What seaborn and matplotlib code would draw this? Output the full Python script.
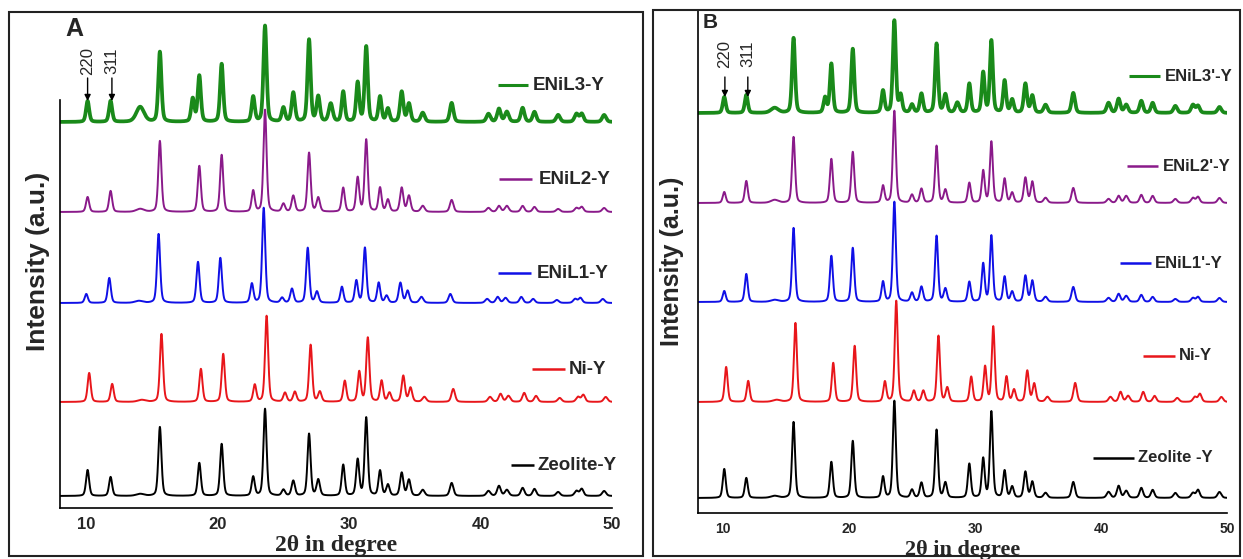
import numpy as np
import pandas as pd
import matplotlib
matplotlib.use("Agg")
import matplotlib.pyplot as plt
from matplotlib.patches import Rectangle
import seaborn as sns

# ---------------- data ----------------
# common reflection positions (2theta, deg) of the faujasite (zeolite Y) pattern
peak_pos = [10.1, 11.85, 14.1, 15.6, 18.1, 18.6, 20.3, 22.7, 23.6, 24.1, 25.0, 25.75,
            26.95, 27.65, 28.6, 29.55, 30.65, 31.3, 32.35, 32.95, 34.0, 34.55, 35.6,
            37.8, 40.6, 41.4, 42.0, 43.2, 44.1, 45.9, 47.3, 47.7, 49.4]
peak_fwhm = [0.28, 0.28, 0.7, 0.28, 0.28, 0.28, 0.28, 0.28, 0.28, 0.28, 0.3, 0.3,
             0.28, 0.3, 0.35, 0.28, 0.28, 0.28, 0.28, 0.3, 0.3, 0.3, 0.35,
             0.32, 0.35, 0.32, 0.35, 0.32, 0.32, 0.35, 0.35, 0.32, 0.35]

# Panel A peak heights (a.u.)
A_zeolite = [26, 19, 2, 69, 0, 33, 52, 19, 87, 0, 6, 15, 62, 16, 0, 31, 36, 78, 25, 11, 23, 16, 6,
             13, 5, 10, 6, 8, 7, 4, 5, 7, 5]
A_niy = [29, 18, 2, 68, 0, 33, 48, 17, 86, 0, 9, 10, 57, 10, 0, 21, 30, 64, 21, 9, 26, 14, 5,
         13, 5, 8, 6, 9, 6, 4, 5, 7, 5]
A_enil1 = [9, 25, 2, 69, 0, 41, 45, 19, 95, 0, 5, 14, 55, 11, 0, 16, 22, 55, 20, 7, 20, 12, 6,
           9, 4, 6, 5, 6, 4, 3, 4, 5, 4]
A_enil2 = [15, 21, 3, 71, 0, 46, 57, 21, 102, 0, 8, 16, 59, 14, 0, 24, 34, 72, 24, 12, 24, 16, 6,
           12, 4, 6, 6, 6, 5, 3, 4, 5, 4]
A_enil3 = [21, 21, 15, 70, 23, 46, 58, 25, 96, 0, 14, 29, 82, 25, 18, 30, 39, 75, 25, 13, 30, 18, 9,
           19, 8, 13, 10, 14, 10, 7, 8, 8, 7]

# Panel B peak heights (a.u.)
B_zeolite = [29, 20, 2, 76, 0, 36, 57, 21, 97, 0, 8, 15, 68, 15, 0, 34, 39, 86, 27, 11, 26, 16, 5,
             16, 6, 12, 7, 10, 8, 5, 5, 8, 6]
B_niy = [35, 21, 2, 79, 0, 39, 56, 20, 101, 0, 11, 11, 66, 14, 0, 25, 35, 75, 25, 12, 31, 18, 5,
         19, 5, 10, 6, 10, 6, 4, 5, 8, 5]
B_enil1 = [11, 28, 2, 74, 0, 46, 54, 20, 100, 0, 9, 15, 66, 13, 0, 20, 38, 66, 25, 10, 26, 21, 5,
           15, 4, 8, 6, 7, 5, 3, 4, 5, 4]
B_enil2 = [11, 22, 3, 66, 0, 44, 51, 17, 92, 0, 8, 14, 57, 13, 0, 20, 32, 61, 24, 10, 25, 21, 5,
           15, 4, 7, 7, 8, 7, 4, 5, 6, 5]
B_enil3 = [16, 18, 5, 75, 15, 49, 64, 22, 92, 17, 8, 19, 69, 18, 10, 29, 40, 72, 32, 13, 29, 17, 8,
           20, 10, 14, 8, 12, 10, 7, 8, 7, 6]

# peak shift of each sample (deg) and vertical stacking offset (a.u.)
A_labels = ["Zeolite-Y", "Ni-Y", "ENiL1-Y", "ENiL2-Y", "ENiL3-Y"]
A_shift = [0.0, 0.12, -0.1, 0.0, 0.0]
A_offset = [12, 106, 205, 296, 386]
B_labels = ["Zeolite -Y", "Ni-Y", "ENiL1'-Y", "ENiL2'-Y", "ENiL3'-Y"]
B_shift = [0.0, 0.15, 0.0, 0.0, 0.0]
B_offset = [15, 111, 211, 310, 400]

x_ticks = [10, 20, 30, 40, 50]
colors = ["#000000", "#e8161b", "#1010e6", "#8a1a8a", "#1a8a1a"]
widths = [1.4, 1.4, 1.4, 1.4, 2.7]

two_theta = np.linspace(8, 50, 4201)


def pattern(heights, shift):
    y = np.zeros_like(two_theta)
    for p, w, h in zip(peak_pos, peak_fwhm, heights):
        d = (two_theta - p - shift) / w
        y += h * (0.65 * np.exp(-4 * np.log(2) * d ** 2) + 0.35 / (1 + 4 * d ** 2))
    return y


# ---------------- figure ----------------
sns.set_style("white")
plt.rcParams["font.family"] = ["Liberation Sans", "DejaVu Sans"]

W, H = 1243, 559
fig = plt.figure(figsize=(W / 100, H / 100), dpi=100)


def fx(px):
    return px / W


def fy(py):
    return 1 - py / H


# outer frames of the two panels
for (x0, y0, x1, y1) in [(9, 12, 643, 556), (653, 10, 1240, 556)]:
    fig.patches.append(Rectangle((fx(x0), fy(y1)), fx(x1) - fx(x0), fy(y0) - fy(y1),
                                 transform=fig.transFigure, fill=False,
                                 edgecolor="#222222", linewidth=1.5))

# legend key placement per sample (line start, line end, text start in deg; y in a.u.),
# ordered like the samples: Zeolite, Ni, ENiL1, ENiL2, ENiL3
panels = [
    dict(rect=(60, 15, 612, 508), heights=[A_zeolite, A_niy, A_enil1, A_enil2, A_enil3],
         labels=A_labels, shift=A_shift, offset=A_offset, letter="A", tick_fs=12,
         xl_fs=17, yl_fs=19, leg_fs=13.5, spine_top=408, letter_fs=18,
         legend=[(42.3, 44.1, 44.3, 43), (43.9, 46.4, 46.7, 139), (41.3, 43.8, 44.3, 235),
                 (41.4, 43.9, 44.4, 329), (41.3, 43.6, 44.0, 423)],
         arrows=[(10.1, 447, 430, 407), (11.95, 447, 430, 407)], ylab_x=-0.04),
    dict(rect=(697.8, 10, 1227, 513), heights=[B_zeolite, B_niy, B_enil1, B_enil2, B_enil3],
         labels=B_labels, shift=B_shift, offset=B_offset, letter="B", tick_fs=10,
         xl_fs=16, yl_fs=18, leg_fs=12, spine_top=None, letter_fs=15,
         legend=[(39.4, 42.6, 42.9, 55), (43.3, 45.9, 46.2, 157), (41.5, 44.0, 44.3, 250),
                 (42.1, 44.5, 44.9, 347), (42.2, 44.7, 45.1, 437)],
         arrows=[(10.15, 459, 436, 416), (11.97, 459, 436, 416)], ylab_x=-0.049),
]

for P in panels:
    l, t, r, b = P["rect"]
    ax = fig.add_axes([fx(l), fy(b), fx(r) - fx(l), fy(t) - fy(b)])
    ax.set_xlim(8, 50)
    ax.set_ylim(0, b - t)

    for i in range(5):
        df = pd.DataFrame({"two_theta": two_theta,
                           "intensity": pattern(P["heights"][i], P["shift"][i]) + P["offset"][i]})
        sns.lineplot(data=df, x="two_theta", y="intensity", ax=ax, color=colors[i],
                     linewidth=widths[i], estimator=None, sort=False, legend=False)
        x0, x1, xt, yl = P["legend"][i]
        ax.plot([x0, x1], [yl, yl], color=colors[i], lw=1.8 if i < 4 else 2.2,
                solid_capstyle="butt")
        ax.text(xt, yl, P["labels"][i], fontsize=P["leg_fs"], fontweight="bold",
                ha="left", va="center")

    for (xa, ytxt, y0, y1), lab in zip(P["arrows"], ["220", "311"]):
        ax.annotate("", xy=(xa, y1), xytext=(xa, y0),
                    arrowprops=dict(arrowstyle="-|>", color="black", lw=1.0,
                                    mutation_scale=9, shrinkA=0, shrinkB=0))
        ax.text(xa, ytxt, lab, rotation=90, ha="center", va="center", fontsize=12)

    ax.text(0.009, 0.995, P["letter"], transform=ax.transAxes, fontsize=P["letter_fs"],
            fontweight="bold", ha="left", va="top")

    for s in ["top", "right"]:
        ax.spines[s].set_visible(False)
    for s in ["left", "bottom"]:
        ax.spines[s].set_color("black")
        ax.spines[s].set_linewidth(1.2)
    if P["spine_top"] is not None:
        ax.spines["left"].set_bounds(0, P["spine_top"])

    ax.set_yticks([])
    ax.set_xticks(x_ticks)
    ax.set_xticks([15, 25, 35, 45], minor=True)
    ax.tick_params(axis="x", which="major", direction="out", length=5, width=1.1,
                   labelsize=P["tick_fs"], pad=1.5)
    ax.tick_params(axis="x", which="minor", direction="out", length=4, width=1.0)
    for lb in ax.get_xticklabels():
        lb.set_fontweight("bold")

    ax.set_xlabel("2θ in degree", fontsize=P["xl_fs"], fontweight="bold",
                  family=["Liberation Serif", "DejaVu Serif"], va="center")
    ax.xaxis.set_label_coords(0.5, -37 / (b - t))
    ax.set_ylabel("Intensity (a.u.)", fontsize=P["yl_fs"], fontweight="bold", va="center")
    ax.yaxis.set_label_coords(P["ylab_x"], 0.5)
    ax.set_facecolor("none")

fig.savefig("out.png", dpi=100, facecolor="white")
